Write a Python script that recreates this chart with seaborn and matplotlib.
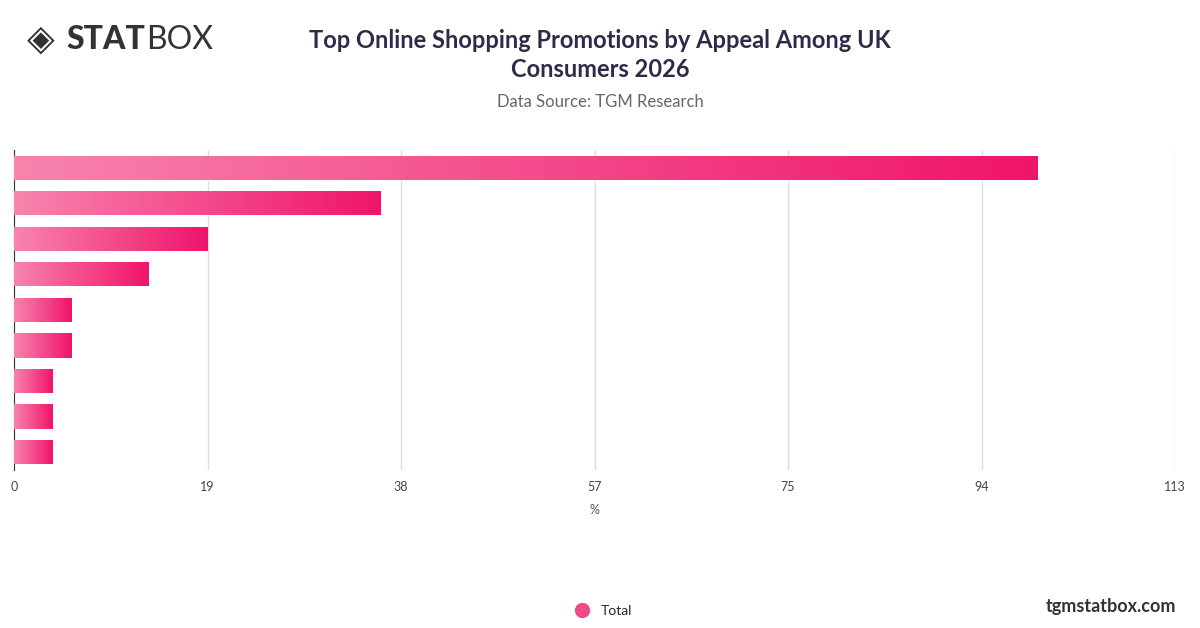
import numpy as np
import pandas as pd
import matplotlib
matplotlib.use("Agg")
import matplotlib.pyplot as plt
from matplotlib.colors import LinearSegmentedColormap
from matplotlib.lines import Line2D
import seaborn as sns

# data (category names are not shown in the chart)
items = ["P1", "P2", "P3", "P4", "P5", "P6", "P7", "P8", "P9"]
values = [99.6, 35.7, 18.8, 13.1, 5.6, 5.6, 3.7, 3.7, 3.7]
tick_vals = [0, 113 / 6, 113 / 3, 56.5, 113 * 2 / 3, 113 * 5 / 6, 113]
tick_labels = ["0", "19", "38", "57", "75", "94", "113"]

df = pd.DataFrame({"item": items, "value": values})

sns.set_style("white")
plt.rcParams["font.family"] = ["Lato", "DejaVu Sans"]

fig = plt.figure(figsize=(12, 6.28), dpi=100)
ax = fig.add_axes([0.0117, 0.252, 0.9675, 0.509])

sns.barplot(data=df, x="value", y="item", orient="h", color="#f0146a",
            width=0.68, ax=ax)
ax.set_xlim(0, 113)
ax.set_xticks(tick_vals)
ax.set_xticklabels(tick_labels, fontsize=9, color="#444444")
ax.set_yticks([])
ax.set_ylabel("")
ax.set_xlabel("%", fontsize=9, color="#555555", labelpad=8)
ax.tick_params(axis="x", length=0, pad=8)
ax.grid(axis="x", color="#dddddd", linewidth=1)
ax.set_axisbelow(True)
for s in ["top", "right", "bottom"]:
    ax.spines[s].set_visible(False)
ax.spines["left"].set_color("#333333")

# gradient fill on each bar
cmap = LinearSegmentedColormap.from_list("pinkgrad", ["#f884ae", "#f0146a"])
grad = np.linspace(0, 1, 256).reshape(1, -1)
ylim = ax.get_ylim()
for patch in list(ax.patches):
    x0, y0 = patch.get_x(), patch.get_y()
    w, h = patch.get_width(), patch.get_height()
    im = ax.imshow(grad, cmap=cmap, aspect="auto",
                   extent=[x0, x0 + w, y0 + h, y0], zorder=3)
    im.set_clip_path(patch)
    patch.set_facecolor("none")
ax.set_ylim(ylim)
ax.set_xlim(0, 113)

# header
fig.text(0.5, 0.912, "Top Online Shopping Promotions by Appeal Among UK\nConsumers 2026",
         ha="center", va="center", fontsize=17, fontweight="bold",
         color="#2e2b4a", linespacing=1.3)
fig.text(0.5, 0.838, "Data Source: TGM Research", ha="center", va="center",
         fontsize=12, color="#666666")
fig.text(0.022, 0.937, "\u25C8", ha="left", va="center", fontsize=26,
         color="#333333", family=["DejaVu Sans"])
fig.text(0.055, 0.937, "STAT", ha="left", va="center", fontsize=23,
         fontweight="black", color="#333333")
fig.text(0.122, 0.937, "BOX", ha="left", va="center", fontsize=23,
         color="#333333")

# legend and footer
handle = Line2D([], [], marker="o", linestyle="none", markersize=10,
                markerfacecolor="#f0498a", markeredgecolor="#f0498a")
fig.legend([handle], ["Total"], loc="center", bbox_to_anchor=(0.5, 0.027),
           frameon=False, fontsize=10, handletextpad=0.4)
fig.text(0.98, 0.035, "tgmstatbox.com", ha="right", va="center",
         fontsize=13, fontweight="bold", color="#333333")

fig.savefig("out.png", dpi=100)
